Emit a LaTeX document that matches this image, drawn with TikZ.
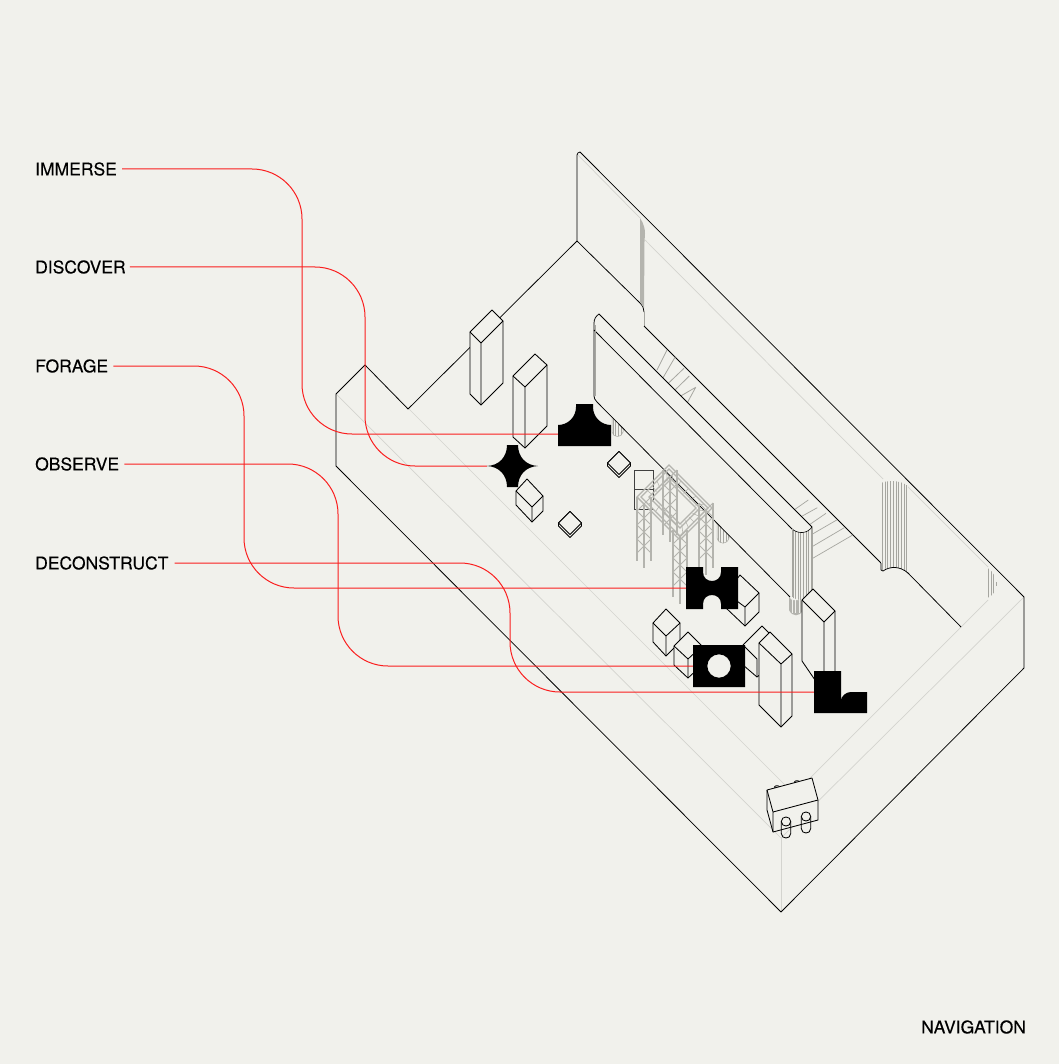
\documentclass[tikz,border=0pt]{standalone}
\usepackage{fontspec}
\usetikzlibrary{calc}
\setmainfont{TeX Gyre Heros}
\newfontfamily\tagfont{TeX Gyre Heros}[FakeBold=0.2]
\definecolor{bgc}{HTML}{F1F1EC}
\definecolor{faintc}{HTML}{D4D4CF}
\definecolor{ribc}{HTML}{A6A6A0}
\definecolor{trussc}{HTML}{B4B4AE}
\definecolor{redc}{HTML}{FA1E1E}
\tikzset{
  wall/.style={draw=black,line width=0.75pt,line join=round},
  faint/.style={draw=faintc,line width=0.7pt},
  solid box/.style={draw=black,fill=bgc,line width=0.85pt,line join=round},
  edge line/.style={draw=black,line width=0.85pt},
  tread/.style={draw=ribc,line width=0.8pt},
  rib/.style={draw=ribc,line width=1pt},
  truss/.style={draw=trussc,line width=1.4pt},
  conn/.style={draw=redc,line width=1pt,rounded corners=50pt},
  tag/.style={font=\tagfont\fontsize{17.5}{20}\selectfont,inner sep=0pt,anchor=west,text=black},
  ink/.style={fill=black,draw=none},
}
% ribbed column: clip path, first x, second x, last x
\newcommand\ribcol[4]{\begin{scope}\clip #1;\fill[bgc] #1;
  \foreach \rx in {#2,#3,...,#4}{\draw[rib] (\rx,100) -- (\rx,700);}
  \end{scope}}
% truss leg: centre x, top y, bottom y
\newcommand\trussleg[3]{%
  \pgfmathsetmacro\tlx{#1-7}\pgfmathsetmacro\trx{#1+7}%
  \pgfmathsetmacro\tcb{#3+7}\pgfmathsetmacro\tct{#2+7}%
  \draw[truss] (\tlx,#2) -- (\tlx,#3) (#1,\tct) -- (#1,\tcb) (\trx,#2) -- (\trx,#3);
  \pgfmathsetmacro\tsteps{int((#3-#2)/14)-1}%
  \foreach \k in {0,...,\tsteps}{%
    \pgfmathsetmacro\ya{#2+\k*14}\pgfmathsetmacro\yb{\ya+7}\pgfmathsetmacro\yc{\ya+14}%
    \draw[truss,line width=0.8pt] (\tlx,\ya) -- (#1,\yb) -- (\tlx,\yc) (\trx,\ya) -- (#1,\yb) -- (\trx,\yc);}%
}
\newcommand\trussring[1]{% e
  \draw[truss,line width=1.1pt] (669,473-#1) -- (645-#1,497) -- (680,532+#1) -- (704+#1,508) -- cycle;}
\newcommand\flatgem[4]{% cx cy r thick
  \draw[solid box] (#1-#3,#2) -- (#1-#3,#2+#4) -- (#1,#2+#3+#4) -- (#1+#3,#2+#4) -- (#1+#3,#2) -- (#1,#2-#3) -- cycle;
  \draw[solid box] (#1-#3,#2) -- (#1,#2+#3) -- (#1+#3,#2) -- (#1,#2-#3) -- cycle;}
\begin{document}
\begin{tikzpicture}[x=1pt,y=-1pt]
\fill[bgc] (0,0) rectangle (1059,1064);
\useasboundingbox (0,0) rectangle (1059,1064);

% faint floor and wall lines
\draw[faint] (336,394) -- (781,838) -- (1024,597);
\draw[faint] (781,838) -- (781,912);
\draw[faint] (365,365) -- (796,796);
\draw[faint] (961,627) -- (796,792);
\draw[faint] (961,627) -- (988,600);
\draw[faint] (578,155) -- (640,218);
\draw[faint] (645,240) -- (883,479);
\draw[faint] (907,486) -- (988,567);

% shell
\draw[wall] (577,155) .. controls (577,153.5) and (578.5,152) .. (580,152) -- (1024,597) -- (1024,668) -- (781,912) -- (336,466) -- (336,394) -- (365,365) -- (408,409) -- (577,241) -- cycle;
\draw[wall] (577,241) -- (640,303) .. controls (643,306) and (644,309) .. (644,312);
\draw[draw=ribc,line width=0.9pt] (644,312) -- (644,326);
\draw[wall] (644,326) -- (881,563);
\draw[wall] (907,572) -- (961,627);
% recess in back wall
\fill[trussc] (640,218) .. controls (644,224) and (646,230) .. (644.5,240) -- (644,308) -- (640,302) -- cycle;
% big right column
\ribcol{(881,483) .. controls (888,480) and (900,480) .. (908,486) -- (908,573) .. controls (900,566) and (890,566) .. (882,570) -- (881,570) -- cycle}{882.5}{885.2}{908}
\draw[wall] (881,563) -- (881,570) -- (883,571) .. controls (890,566) and (900,566) .. (908,573);
% corner half column
\ribcol{(988,568) .. controls (994,573) and (997,579) .. (997,584) .. controls (997,590) and (994,594) .. (988,598) -- cycle}{988.5}{991.2}{998}

% stairs behind inner wall
\draw[tread] (667,350) -- (657,370) (675.3,356.7) -- (662.7,378.3) (684,368.3) -- (668.3,383.3) (689.3,376) -- (675,390) (695.7,387.3) -- (680.7,396) (695.7,387.3) -- (687.3,402.7);
\draw[tread,line width=0.7pt] (808.3,500) -- (795,509.3) (817.3,507.7) -- (802.3,516) (826,513.3) -- (810,524.3) (836.7,520) -- (812,534.3) (844.3,527.7) -- (812,546.7) (852.7,535) -- (812,558.7);

% lower cylinders
\ribcol{(612,417) -- (612,432) .. controls (613,438) and (622,438) .. (623,432) -- (623,428) -- cycle}{613}{615.7}{624}
\draw[wall,line width=0.5pt,draw=ribc] (612,417) -- (612,432) .. controls (613,438) and (622,438) .. (623,432) -- (623,428);
\ribcol{(717,522) -- (717,538) .. controls (719,545) and (727,545) .. (729,538) -- (729,534) -- cycle}{718}{720.7}{730}
\draw[wall,line width=0.5pt,draw=ribc] (717,522) -- (717,538) .. controls (719,545) and (727,545) .. (729,538) -- (729,534);
\fill[trussc] (789,593) -- (789,610) .. controls (792,617) and (800,617) .. (803,610) -- (803,600) -- cycle;
\foreach \rx in {792,795.5,799}{\draw[draw=bgc,line width=0.6pt] (\rx,598) -- (\rx,613);}

% inner wall
\fill[bgc] (594,323) .. controls (594,319) and (596,316) .. (599,314) -- (812,527) -- (812,600) -- (792,600) -- (594,398) -- cycle;
\draw[wall] (594,323) .. controls (594,319) and (596,316) .. (599,314) -- (812,527);
\draw[wall] (594,330) -- (792,529);
\draw[wall] (594,323) -- (594,396) .. controls (594,398) and (595,400) .. (597,402) -- (790,597);
\draw[draw=ribc,line width=1pt] (595,325) -- (595,396);
\ribcol{(792,529) .. controls (798,534) and (807,534) .. (812,527) -- (812,597) -- (803,601) -- (790,597) -- (792,596) -- cycle}{793}{795.6}{812}
\draw[wall,line width=0.6pt] (792,529) .. controls (798,534) and (807,534) .. (812,527);
\draw[wall,line width=0.6pt,draw=ribc] (792,529) -- (792,597) (812,527) -- (812,597);

% rectangle behind truss
\draw[draw=black!75,line width=0.9pt] (653,500) -- (653,470) -- (634,470) -- (634,509) -- (653,509) (634,489) -- (653,489);

% truss
\trussleg{670}{470}{535}
\trussleg{706}{503}{568}
\trussring{8}
\trussring{4}
\trussring{-4}
\trussring{-8}
\foreach \t in {0.1,0.3,0.5,0.7,0.9}{
  \draw[truss,line width=0.6pt] ($(669,469)!\t!(645,493)$) -- ($(669,479)!\t!(651,497)$);
  \draw[truss,line width=0.6pt] ($(669,469)!\t!(708,508)$) -- ($(669,479)!\t!(698,508)$);
  \draw[truss,line width=0.6pt] ($(645,501)!\t!(680,536)$) -- ($(651,497)!\t!(680,526)$);
  \draw[truss,line width=0.6pt] ($(680,536)!\t!(708,508)$) -- ($(680,526)!\t!(698,508)$);}
\trussleg{644}{497}{561}
\trussleg{680}{530}{597}

% prisms
\draw[solid box] (470,332) -- (492,310) -- (503,321) -- (503,383) -- (481,405) -- (470,394) -- cycle;
\draw[edge line] (470,332) -- (481,343) -- (503,321) (481,343) -- (481,405);
\draw[solid box] (513,376) -- (535,354) -- (547,365) -- (547,426) -- (525,448) -- (513,437) -- cycle;
\draw[edge line] (513,376) -- (525,387) -- (547,365) (525,387) -- (525,448);
\draw[solid box] (516,491) -- (527,479) -- (543,496) -- (543,511) -- (532,522) -- (516,505) -- cycle;
\draw[edge line] (516,491) -- (532,507) -- (543,496) (532,507) -- (532,522);
\flatgem{619}{463}{11.5}{3}
\flatgem{570}{523}{11.5}{3}
\draw[solid box] (653,623) -- (666,609) -- (680,623) -- (680,642) -- (666,656) -- (653,642) -- cycle;
\draw[edge line] (653,623) -- (666,636) -- (680,623) (666,636) -- (666,656);
\draw[solid box] (674,646) -- (688,632) -- (702,646) -- (702,665) -- (688,678) -- (674,665) -- cycle;
\draw[edge line] (674,646) -- (688,659) -- (702,646) (688,659) -- (688,678);
\draw[solid box] (726,593) -- (740,575) -- (759,593) -- (759,612) -- (745,626) -- (726,608) -- cycle;
\draw[edge line] (726,593) -- (745,607) -- (759,593) (745,607) -- (745,626);
\draw[solid box] (743,645) -- (762,626) -- (778,642) -- (778,660) -- (757,677) -- (743,665) -- cycle;
\draw[edge line] (743,645) -- (757,659) -- (757,677);
\draw[solid box] (759,643) -- (770,632) -- (792,654) -- (792,716) -- (781,727) -- (759,705) -- cycle;
\draw[edge line] (759,643) -- (781,664) -- (792,654) (781,664) -- (781,727);
\draw[solid box] (802,600) -- (813,589) -- (835,611) -- (835,680) -- (815,680) -- (802,661) -- cycle;
\draw[edge line] (802,600) -- (824,622) -- (835,611) (824,622) -- (824,680);

% device at the front corner
\draw[draw=faintc,line width=0.6pt] (788,785) .. controls (794,788) and (802,787) .. (807,781);
\draw[solid box] (777,787) ellipse[x radius=2.5,y radius=1.3];
\draw[solid box] (797,782) ellipse[x radius=2.5,y radius=1.3];
\draw[solid box] (767,790) -- (812,778) -- (818,800) -- (818,820) -- (773,832) -- (767,810) -- cycle;
\draw[edge line] (767,790) -- (773,812) -- (818,800) (773,812) -- (773,832);
\draw[edge line] (781.3,821.5) .. controls (781.3,815.5) and (790.7,815.5) .. (790.7,821.5) -- (790.7,833.5) .. controls (790.7,839.5) and (781.3,839.5) .. (781.3,833.5) -- cycle;
\draw[edge line] (781.3,821.5) .. controls (781.3,827.5) and (790.7,827.5) .. (790.7,821.5);
\draw[edge line] (801.3,816.5) .. controls (801.3,810.5) and (810.7,810.5) .. (810.7,816.5) -- (810.7,828.5) .. controls (810.7,834.5) and (801.3,834.5) .. (801.3,828.5) -- cycle;
\draw[edge line] (801.3,816.5) .. controls (801.3,822.5) and (810.7,822.5) .. (810.7,816.5);

% labels
\node[tag] (immerse) at (35,169) {IMMERSE};
\node[tag] (discover) at (35,267) {DISCOVER};
\node[tag] (forage) at (35,366) {FORAGE};
\node[tag] (observe) at (35,464) {OBSERVE};
\node[tag] (deconstruct) at (35,563) {DECONSTRUCT};
\node[tag] (navigation) at (921,1027) {NAVIGATION};

% anchors of the black marks
\node[inner sep=0pt,minimum width=53pt,minimum height=42pt] (markT) at (584.5,425) {};
\node[inner sep=0pt,minimum width=51pt,minimum height=42pt] (markStar) at (512.5,466) {};
\node[inner sep=0pt,minimum width=52pt,minimum height=42pt] (markH) at (712,588) {};
\node[inner sep=0pt,minimum width=52pt,minimum height=42pt] (markO) at (719,666) {};
\node[inner sep=0pt,minimum width=53pt,minimum height=42pt] (markL) at (840.5,692) {};

% red connectors
\draw[conn] ([xshift=5pt]immerse.east) -- (302,169) -- (302,434) -- (markT.west |- 0,434);
\draw[conn] ([xshift=4pt]discover.east) -- (365,267) -- (365,466) -- (markStar.west);
\draw[conn] ([xshift=5pt]forage.east) -- (244,366) -- (244,588) -- (markH.west);
\draw[conn] ([xshift=5pt]observe.east) -- (338,464) -- (338,666) -- (markO.west);
\draw[conn] ([xshift=6pt]deconstruct.east) -- (510,563) -- (510,692) -- (markL.west);

% black marks
\fill[ink] (558,446) -- (558,425) .. controls (568,425) and (576,417) .. (576,407) -- (576,404) -- (593,404) -- (593,407) .. controls (593,417) and (601,425) .. (611,425) -- (611,446) -- cycle;
\fill[ink] (487,466) .. controls (499,465.5) and (507,457) .. (507,445) -- (518,445) .. controls (518,457) and (526,465.5) .. (538,466) .. controls (526,466.5) and (518,475) .. (518,487) -- (507,487) .. controls (507,475) and (499,466.5) .. (487,466) -- cycle;
\fill[ink] (686,567) -- (703,567) -- (703,572) .. controls (703,584) and (721,584) .. (721,572) -- (721,567) -- (738,567) -- (738,609) -- (721,609) -- (721,604) .. controls (721,592) and (703,592) .. (703,604) -- (703,609) -- (686,609) -- cycle;
\fill[ink,even odd rule] (693,645) rectangle (745,687) (719,666) circle[radius=11.7];
\fill[ink] (814,671) -- (841,671) -- (841,701) .. controls (841,696) and (846,692) .. (851,692) -- (867,692) -- (867,713) -- (814,713) -- cycle;
\end{tikzpicture}
\end{document}
